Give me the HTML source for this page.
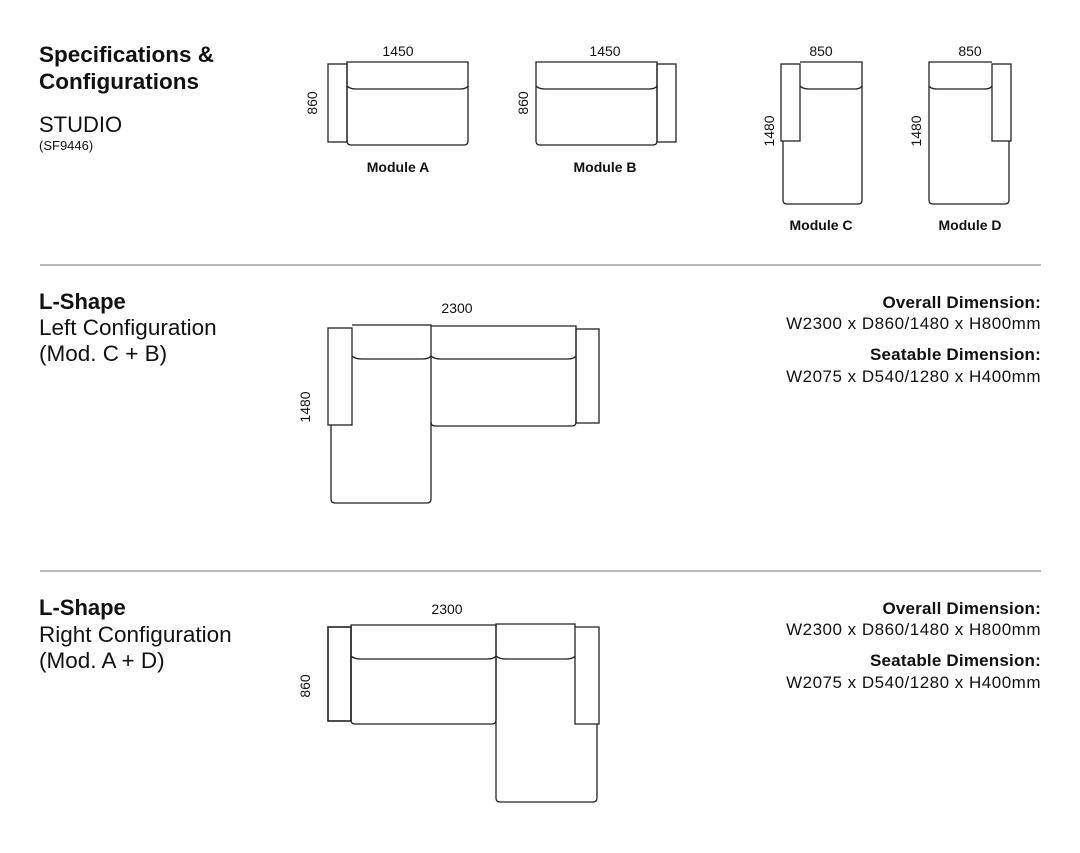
<!DOCTYPE html>
<html><head><meta charset="utf-8"><style>
html,body{margin:0;padding:0;background:#fff;}
svg{display:block;font-family:"Liberation Sans",sans-serif;}
</style></head><body>
<svg width="1080" height="853" viewBox="0 0 1080 853" xmlns="http://www.w3.org/2000/svg">
<g fill="#111">
<text x="39" y="62" font-size="22.5" font-weight="bold">Specifications &amp;</text>
<text x="39" y="89" font-size="22.5" font-weight="bold">Configurations</text>
<text x="39" y="132" font-size="22">STUDIO</text>
<text x="39" y="150" font-size="13">(SF9446)</text>

<text x="39" y="309" font-size="22" font-weight="bold">L-Shape</text>
<text x="39" y="335" font-size="22.5">Left Configuration</text>
<text x="39" y="361" font-size="22.5">(Mod. C + B)</text>

<text x="39" y="615" font-size="22" font-weight="bold">L-Shape</text>
<text x="39" y="642" font-size="22.5">Right Configuration</text>
<text x="39" y="668" font-size="22.5">(Mod. A + D)</text>

<g font-size="17" text-anchor="end" letter-spacing="0.5">
<text x="1041" y="308" font-weight="bold" letter-spacing="0.2">Overall Dimension:</text>
<text x="1041" y="329">W2300 x D860/1480 x H800mm</text>
<text x="1041" y="360" font-weight="bold" letter-spacing="0.2">Seatable Dimension:</text>
<text x="1041" y="382">W2075 x D540/1280 x H400mm</text>
<text x="1041" y="614" font-weight="bold" letter-spacing="0.2">Overall Dimension:</text>
<text x="1041" y="635">W2300 x D860/1480 x H800mm</text>
<text x="1041" y="666" font-weight="bold" letter-spacing="0.2">Seatable Dimension:</text>
<text x="1041" y="688">W2075 x D540/1280 x H400mm</text>
</g>

<g font-size="14" text-anchor="middle">
<text x="398" y="56">1450</text>
<text x="605" y="56">1450</text>
<text x="821" y="56">850</text>
<text x="970" y="56">850</text>
<text x="457" y="313">2300</text>
<text x="447" y="614">2300</text>
<text transform="translate(317,103) rotate(-90)">860</text>
<text transform="translate(528,103) rotate(-90)">860</text>
<text transform="translate(774,131) rotate(-90)">1480</text>
<text transform="translate(921,131) rotate(-90)">1480</text>
<text transform="translate(310,407) rotate(-90)">1480</text>
<text transform="translate(310,686) rotate(-90)">860</text>
</g>
<g font-size="14" font-weight="bold" text-anchor="middle">
<text x="398" y="172">Module A</text>
<text x="605" y="172">Module B</text>
<text x="821" y="230">Module C</text>
<text x="970" y="230">Module D</text>
</g>
</g>

<g stroke="#777" stroke-width="1">
<line x1="40" y1="265" x2="1041" y2="265"/>
<line x1="40" y1="571" x2="1041" y2="571"/>
</g>

<g fill="none" stroke="#222" stroke-width="1.3">
<rect x="328" y="64" width="19" height="78"/>
<path d="M347,62 H468 V141 Q468,145 464,145 H351 Q347,145 347,141 Z"/>
<path d="M347,86 Q350,89 356,89 H460 Q466,89 468,86"/>
<path d="M536,62 H657 V141 Q657,145 653,145 H540 Q536,145 536,141 Z"/>
<rect x="657" y="64" width="19" height="78"/>
<path d="M536,86 Q539,89 545,89 H649 Q655,89 657,86"/>
<rect x="781" y="64" width="19" height="77"/>
<path d="M800,62 H862 V200 Q862,204 858,204 H787 Q783,204 783,200 V141"/>
<path d="M800,86 Q803,89 809,89 H855 Q860,89 862,86"/>
<path d="M992,62 H929 V200 Q929,204 933,204 H1005 Q1009,204 1009,200 V141"/>
<rect x="992" y="64" width="19" height="77"/>
<path d="M929,86 Q931,89 937,89 H985 Q990,89 992,86"/>

<rect x="328" y="328" width="24" height="97"/>
<path d="M352,325 H431 V499 Q431,503 427,503 H335 Q331,503 331,499 V425"/>
<path d="M352,356 Q355,359 362,359 H422 Q429,359 431,356"/>
<path d="M431,326 H576 V422 Q576,426 572,426 H435 Q431,426 431,422"/>
<path d="M431,356 Q434,359 441,359 H567 Q574,359 576,356"/>
<rect x="576" y="329" width="23" height="94"/>

<rect x="328" y="627" width="23" height="94" stroke-width="1.6"/>
<path d="M351,625 H496 V720 Q496,724 492,724 H355 Q351,724 351,720 Z"/>
<path d="M351,656 Q354,659 361,659 H487 Q494,659 496,656"/>
<path d="M496,624 H575 V724 H597 V798 Q597,802 593,802 H500 Q496,802 496,798 Z"/>
<path d="M496,656 Q499,659 506,659 H566 Q573,659 575,656"/>
<path d="M575,627 H599 V724 H597"/>
</g>
</svg>
</body></html>
